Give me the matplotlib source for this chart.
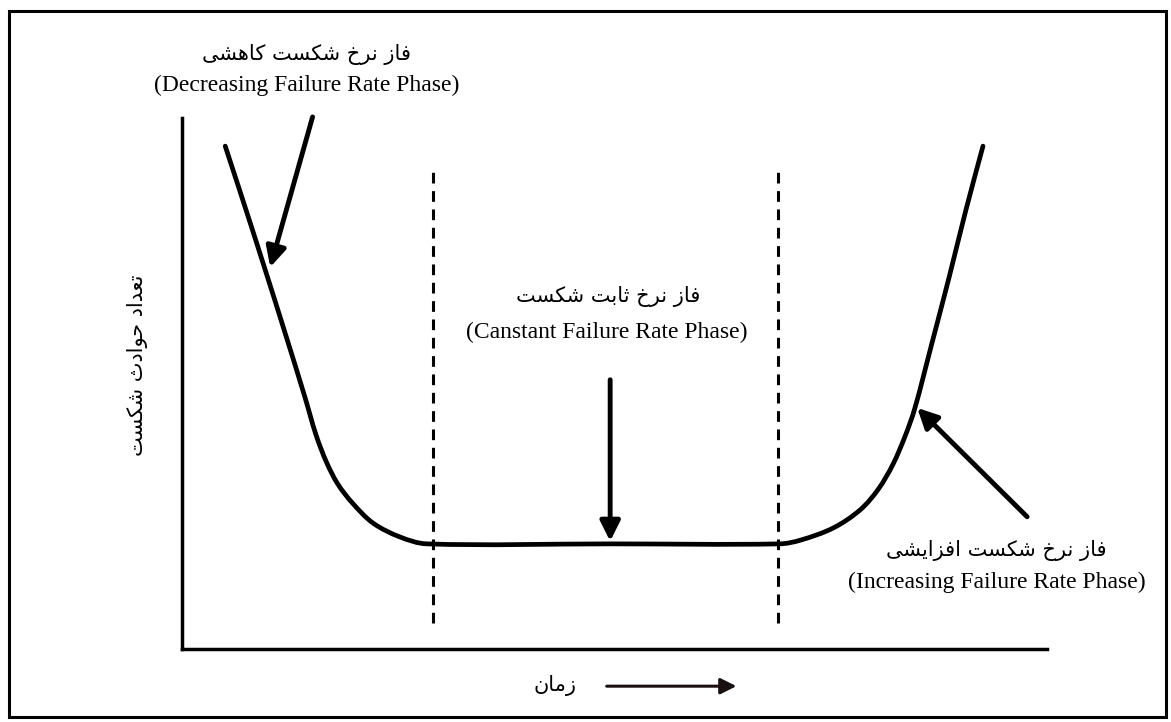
# -*- coding: utf-8 -*-
# bathtub curve (منحنی وان حمام) with persian labels

import math
import matplotlib
matplotlib.use('Agg')
import matplotlib.pyplot as plt
from matplotlib.patches import Rectangle, PathPatch
from matplotlib.path import Path

# curve: time (x) vs number of failures (y), arbitrary units 0..10
left_t = [0.50, 0.74, 0.97, 1.20, 1.42, 1.55, 1.67, 1.80, 1.97, 2.21, 2.52, 2.83]
left_y = [9.47, 8.27, 7.10, 5.91, 4.75, 4.03, 3.52, 3.11, 2.75, 2.37, 2.11, 1.98]
flat_t = [4.95, 6.91]
flat_y = [1.98, 1.98]
right_t = [7.15, 7.53, 7.84, 8.05, 8.22, 8.36, 8.47, 8.67, 8.87, 9.06, 9.26]
right_y = [2.05, 2.28, 2.62, 3.01, 3.48, 4.01, 4.52, 5.76, 7.01, 8.25, 9.47]

phase_bounds = [2.90, 6.89]   # dashed lines

title_dec = ['فاز نرخ شکست کاهشی', '(Decreasing Failure Rate Phase)']
title_const = ['فاز نرخ ثابت شکست', '(Canstant Failure Rate Phase)']
title_inc = ['فاز نرخ شکست افزایشی', '(Increasing Failure Rate Phase)']
ylabel = 'تعداد حوادث شکست'
xlabel = 'زمان'

# presentation forms: isolated, final, initial, medial
FORMS = {
  '\u0627': ('\uFE8D', '\uFE8E', None, None),
  '\u0628': ('\uFE8F', '\uFE90', '\uFE91', '\uFE92'),
  '\u062A': ('\uFE95', '\uFE96', '\uFE97', '\uFE98'),
  '\u062B': ('\uFE99', '\uFE9A', '\uFE9B', '\uFE9C'),
  '\u062D': ('\uFEA1', '\uFEA2', '\uFEA3', '\uFEA4'),
  '\u062E': ('\uFEA5', '\uFEA6', '\uFEA7', '\uFEA8'),
  '\u062F': ('\uFEA9', '\uFEAA', None, None),
  '\u0631': ('\uFEAD', '\uFEAE', None, None),
  '\u0632': ('\uFEAF', '\uFEB0', None, None),
  '\u0633': ('\uFEB1', '\uFEB2', '\uFEB3', '\uFEB4'),
  '\u0634': ('\uFEB5', '\uFEB6', '\uFEB7', '\uFEB8'),
  '\u0639': ('\uFEC9', '\uFECA', '\uFECB', '\uFECC'),
  '\u0641': ('\uFED1', '\uFED2', '\uFED3', '\uFED4'),
  '\u0645': ('\uFEE1', '\uFEE2', '\uFEE3', '\uFEE4'),
  '\u0646': ('\uFEE5', '\uFEE6', '\uFEE7', '\uFEE8'),
  '\u0647': ('\uFEE9', '\uFEEA', '\uFEEB', '\uFEEC'),
  '\u0648': ('\uFEED', '\uFEEE', None, None),
  '\u06A9': ('\uFB8E', '\uFB8F', '\uFB90', '\uFB91'),
  '\u06CC': ('\uFBFC', '\uFBFD', '\uFBFE', '\uFBFF'),
}


def fa(text):
  # very small shaper, matplotlib has no rtl support
  text = text.replace('\u0643', '\u06A9').replace('\u064A', '\u06CC')
  chars = list(text)
  out = []
  for i, c in enumerate(chars):
    if c not in FORMS:
      out.append(c)
      continue
    prev = chars[i - 1] if i > 0 else None
    nxt = chars[i + 1] if i + 1 < len(chars) else None
    join_prev = prev in FORMS and FORMS[prev][2] is not None
    join_next = nxt in FORMS and FORMS[c][2] is not None
    iso, fin, ini, med = FORMS[c]
    if join_prev and join_next:
      out.append(med)
    elif join_prev:
      out.append(fin)
    elif join_next:
      out.append(ini)
    else:
      out.append(iso)
  return ''.join(reversed(out))


def smooth_path(xs, ys, k=0.614):
  # bezier through the points; k = y/x aspect of the axes box
  pts = [(a, b * k) for a, b in zip(xs, ys)]
  n = len(pts)

  def direction(i):
    a = pts[max(i - 1, 0)]
    b = pts[min(i + 1, n - 1)]
    dx, dy = b[0] - a[0], b[1] - a[1]
    d = math.hypot(dx, dy)
    return dx / d, dy / d

  verts = [pts[0]]
  codes = [Path.MOVETO]
  for i in range(n - 1):
    p1, p2 = pts[i], pts[i + 1]
    L = math.hypot(p2[0] - p1[0], p2[1] - p1[1]) / 3
    d1, d2 = direction(i), direction(i + 1)
    verts += [(p1[0] + d1[0] * L, p1[1] + d1[1] * L),
              (p2[0] - d2[0] * L, p2[1] - d2[1] * L), p2]
    codes += [Path.CURVE4] * 3
  verts = [(a, b / k) for a, b in verts]
  return Path(verts, codes)


FA_FONT = ['DejaVu Sans']
EN_FONT = ['Liberation Serif', 'DejaVu Serif']

fig = plt.figure(figsize=(11.71, 7.22), dpi=100)
ax = fig.add_axes([0.1554, 0.1011, 0.7387, 0.7355])
ax.set_xlim(0, 10)
ax.set_ylim(0, 10)
for s in ['top', 'right']:
  ax.spines[s].set_visible(False)
for s in ['left', 'bottom']:
  ax.spines[s].set_linewidth(2.5)
ax.set_xticks([])
ax.set_yticks([])

# outer frame
fig.patches.append(Rectangle((9 / 1171, 5 / 722), 1157 / 1171, 706 / 722,
                             transform=fig.transFigure, fill=False,
                             lw=2.2, ec='black'))

t = left_t + flat_t + right_t
y = left_y + flat_y + right_y
ax.add_patch(PathPatch(smooth_path(t, y), fill=False, ec='black', lw=3.4,
                       capstyle='round', joinstyle='round'))

for b in phase_bounds:
  ax.plot([b, b], [0.49, 9.06], color='black', lw=2.2, dashes=(3.5, 2.5))

ap = dict(arrowstyle='-|>,head_length=0.6,head_width=0.3', color='black',
          lw=3.5, mutation_scale=20, shrinkA=0, shrinkB=0)
ax.annotate('', xy=(1.02, 7.19), xytext=(1.51, 10.02), arrowprops=ap, annotation_clip=False)
ax.annotate('', xy=(4.95, 2.03), xytext=(4.95, 5.07), arrowprops=ap, annotation_clip=False)
ax.annotate('', xy=(8.50, 4.54), xytext=(9.77, 2.49), arrowprops=ap, annotation_clip=False)
ap2 = dict(ap, lw=2.2, mutation_scale=16, color='#1a1010')
ax.annotate('', xy=(6.41, -0.70), xytext=(4.91, -0.70), arrowprops=ap2, annotation_clip=False)

kw = dict(ha='center', va='center', clip_on=False)
ax.text(1.445, 11.19, fa(title_dec[0]), family=FA_FONT, fontsize=15, **kw)
ax.text(1.445, 10.62, title_dec[1], family=EN_FONT, fontsize=17, **kw)
ax.text(4.925, 6.63, fa(title_const[0]), family=FA_FONT, fontsize=15, **kw)
ax.text(4.913, 5.97, title_const[1], family=EN_FONT, fontsize=17, **kw)
ax.text(9.41, 1.86, fa(title_inc[0]), family=FA_FONT, fontsize=15, **kw)
ax.text(9.42, 1.26, title_inc[1], family=EN_FONT, fontsize=17, **kw)
ax.text(-0.509, 5.35, fa(ylabel), family=FA_FONT, fontsize=15, rotation=90, **kw)
ax.text(4.31, -0.68, fa(xlabel), family=FA_FONT, fontsize=15, **kw)

fig.savefig('out.png', dpi=100)
